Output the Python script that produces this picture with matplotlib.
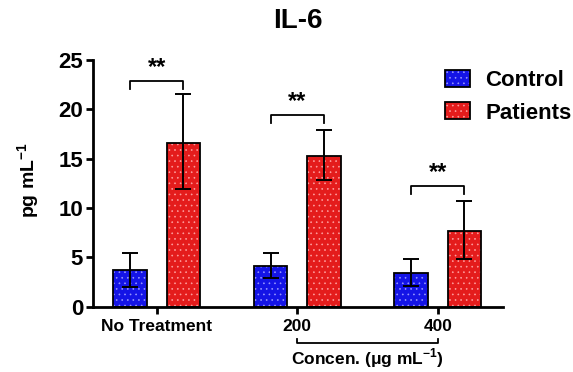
import matplotlib.pyplot as plt
import numpy as np
from matplotlib.transforms import blended_transform_factory

plt.rcParams['font.family'] = ['Liberation Sans', 'DejaVu Sans']
plt.rcParams['hatch.linewidth'] = 0.45
plt.rcParams['mathtext.fontset'] = 'custom'
plt.rcParams['mathtext.rm'] = 'Liberation Sans'
plt.rcParams['mathtext.bf'] = 'Liberation Sans:bold'

groups = ["No Treatment", "200", "400"]
control = [3.75, 4.15, 3.45]
control_lo = [2.0, 2.9, 2.1]
control_hi = [5.45, 5.45, 4.85]
patients = [16.6, 15.3, 7.7]
patients_lo = [11.9, 12.85, 4.85]
patients_hi = [21.5, 17.9, 10.7]
bracket_y = [22.9, 19.4, 12.25]
series = ["Control", "Patients"]
colors = ["#1414e6", "#e41c1c"]
dot_colors = ["#9a9aff", "#ffa0a0"]

fig = plt.figure(figsize=(5.73, 3.72), dpi=100)
ax = fig.add_axes([0.162, 0.175, 0.716, 0.664])

x = np.arange(len(groups))
w = 0.24
off = 0.19
handles = []
for i, (vals, lo, hi) in enumerate([(control, control_lo, control_hi),
                                     (patients, patients_lo, patients_hi)]):
    xs = x + (off if i else -off)
    h1 = ax.bar(xs, vals, w, color=colors[i], edgecolor=dot_colors[i],
                hatch="...", linewidth=0, zorder=2)
    h2 = ax.bar(xs, vals, w, fill=False, edgecolor="black", linewidth=1.3, zorder=3)
    err = [np.array(vals) - np.array(lo), np.array(hi) - np.array(vals)]
    ax.errorbar(xs, vals, yerr=err, fmt="none", ecolor="black", elinewidth=1.4,
                capsize=6, capthick=1.4, zorder=4)
    handles.append((h1[0], h2[0]))

# significance brackets
for i, by in enumerate(bracket_y):
    x0, x1 = x[i] - off, x[i] + off
    ax.plot([x0, x0, x1, x1], [by - 0.8, by, by, by - 0.8], color="black", lw=1.3)
    ax.text(x[i], by + 0.2, "**", ha="center", va="bottom", fontsize=17, fontweight="bold")

ax.set_xlim(-0.455, 2.465)
ax.set_ylim(0, 25)
ax.set_yticks([0, 5, 10, 15, 20, 25])
ax.set_xticks(x)
ax.set_xticklabels(groups, fontsize=12.5, fontweight="bold")
for lab in ax.get_yticklabels():
    lab.set_fontsize(16)
    lab.set_fontweight("bold")
ax.tick_params(axis="both", width=2, length=5, direction="out")
ax.tick_params(axis="y", pad=2)
for s in ["top", "right"]:
    ax.spines[s].set_visible(False)
for s in ["left", "bottom"]:
    ax.spines[s].set_linewidth(2)

# concentration bracket under the axis
tr = blended_transform_factory(ax.transData, ax.transAxes)
ax.plot([1, 1, 2, 2], [-0.13, -0.146, -0.146, -0.13], color="black", lw=1.3,
        transform=tr, clip_on=False)
ax.text(1.5, -0.16, r"Concen. ($\mathbf{\mu}$g mL$^{\mathbf{-1}}$)", transform=tr,
        ha="center", va="top", fontsize=12.5, fontweight="bold")

fig.text(0.52, 0.943, "IL-6", ha="center", va="center", fontsize=20, fontweight="bold")
fig.text(0.05, 0.515, r"pg mL$^{\mathbf{-1}}$", rotation=90, ha="center", va="center",
         fontsize=14, fontweight="bold")

leg = ax.legend(handles, series, loc="upper left", bbox_to_anchor=(0.81, 1.04),
                frameon=False, fontsize=16, handlelength=1.1, handleheight=0.8,
                handletextpad=0.7, labelspacing=0.5)
for t in leg.get_texts():
    t.set_fontweight("bold")

fig.savefig("out.png", dpi=100)
